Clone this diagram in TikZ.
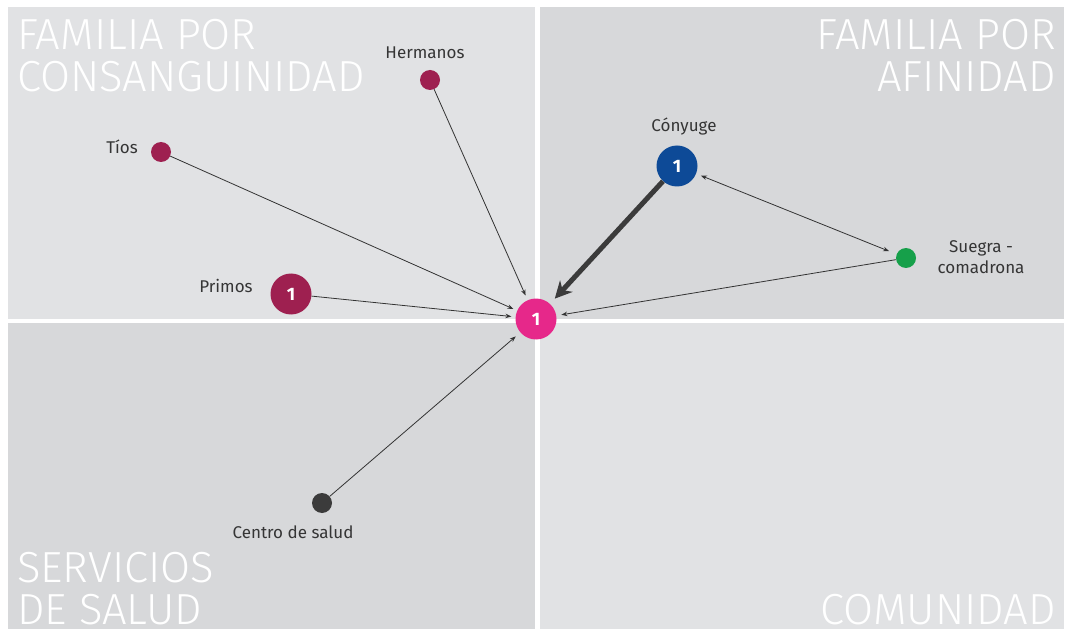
\documentclass[tikz,border=0pt]{standalone}
\usepackage{fontspec}
\setmainfont{Fira Sans}
\newfontfamily\titlefont{Fira Sans Light}
\usetikzlibrary{arrows.meta}
\definecolor{qlight}{HTML}{E1E2E4}
\definecolor{qdark}{HTML}{D7D8DA}
\definecolor{cpink}{HTML}{E6288A}
\definecolor{cblue}{HTML}{0D4A97}
\definecolor{cmaroon}{HTML}{9E2050}
\definecolor{cgreen}{HTML}{16A04A}
\definecolor{cgray}{HTML}{3B3B3B}
\definecolor{ctext}{HTML}{353535}
\definecolor{cline}{HTML}{333333}
\tikzset{
  big/.style={circle,minimum size=41pt,inner sep=0pt,text=white,font=\fontsize{18}{19}\selectfont\bfseries},
  small/.style={circle,minimum size=20pt,inner sep=0pt},
  lbl/.style={text=ctext,font=\fontsize{17}{21}\selectfont,inner sep=0pt,align=center},
  ttl/.style={text=white,font=\titlefont\fontsize{43.5}{44}\selectfont,inner sep=0pt},
  thin/.style={draw=cline,line width=0.8pt,-{Stealth[length=6pt,width=4.5pt]}},
  thick/.style={draw=cgray,line width=5pt,-{Stealth[length=17pt,width=17pt]}}
}
\begin{document}
\begin{tikzpicture}[x=1pt,y=-1pt]
\useasboundingbox (0,0) rectangle (1066,631);
\fill[white] (0,0) rectangle (1066,631);
% quadrants
\fill[qlight] (8,7) rectangle (535,319);
\fill[qdark] (540,7) rectangle (1064,319);
\fill[qdark] (8,323) rectangle (535,629);
\fill[qlight] (540,323) rectangle (1064,629);
% titles
\node[ttl,anchor=base west] (t1a) at (17,50) {FAMILIA POR};
\node[ttl,anchor=base west] (t1b) at (17,92) {CONSANGUINIDAD};
\node[ttl,anchor=base east] (t2a) at (1056,50) {FAMILIA POR};
\node[ttl,anchor=base east] (t2b) at (1056,92) {AFINIDAD};
\node[ttl,anchor=base west] (t3a) at (17,582) {SERVICIOS};
\node[ttl,anchor=base west] (t3b) at (17,624) {DE SALUD};
\node[ttl,anchor=base east] (t4) at (1056,624) {COMUNIDAD};
% nodes
\node[big,fill=cpink] (ego) at (536,319) {1};
\node[big,fill=cblue] (cony) at (677,166) {1};
\node[big,fill=cmaroon] (prim) at (291,294) {1};
\node[small,fill=cgreen] (sueg) at (906,258) {};
\node[small,fill=cmaroon] (tios) at (161,152) {};
\node[small,fill=cmaroon] (herm) at (430,80) {};
\node[small,fill=cgray] (cent) at (322,503) {};
% labels
\node[lbl] (lcony) at (684,127) {Cónyuge};
\node[lbl] (lsueg) at (981,257) {Suegra -\\comadrona};
\node[lbl] (lprim) at (226,286) {Primos};
\node[lbl] (ltios) at (122,147) {Tíos};
\node[lbl] (lherm) at (425,53) {Hermanos};
\node[lbl] (lcent) at (293,532) {Centro de salud};
% connectors
\draw[thin,shorten >=5pt] (herm) -- (ego);
\draw[thin,shorten >=4pt] (tios) -- (ego);
\draw[thin,shorten >=4pt] (prim) -- (ego);
\draw[thin,shorten >=6pt] (cent) -- (ego);
\draw[thin,shorten >=5pt] (sueg) -- (ego);
\draw[thin,{Stealth[length=6pt,width=4.5pt]}-{Stealth[length=6pt,width=4.5pt]},shorten <=5pt,shorten >=8pt] (cony) -- (sueg);
\draw[thick,shorten >=7pt] (cony) -- (ego);
\end{tikzpicture}
\end{document}
